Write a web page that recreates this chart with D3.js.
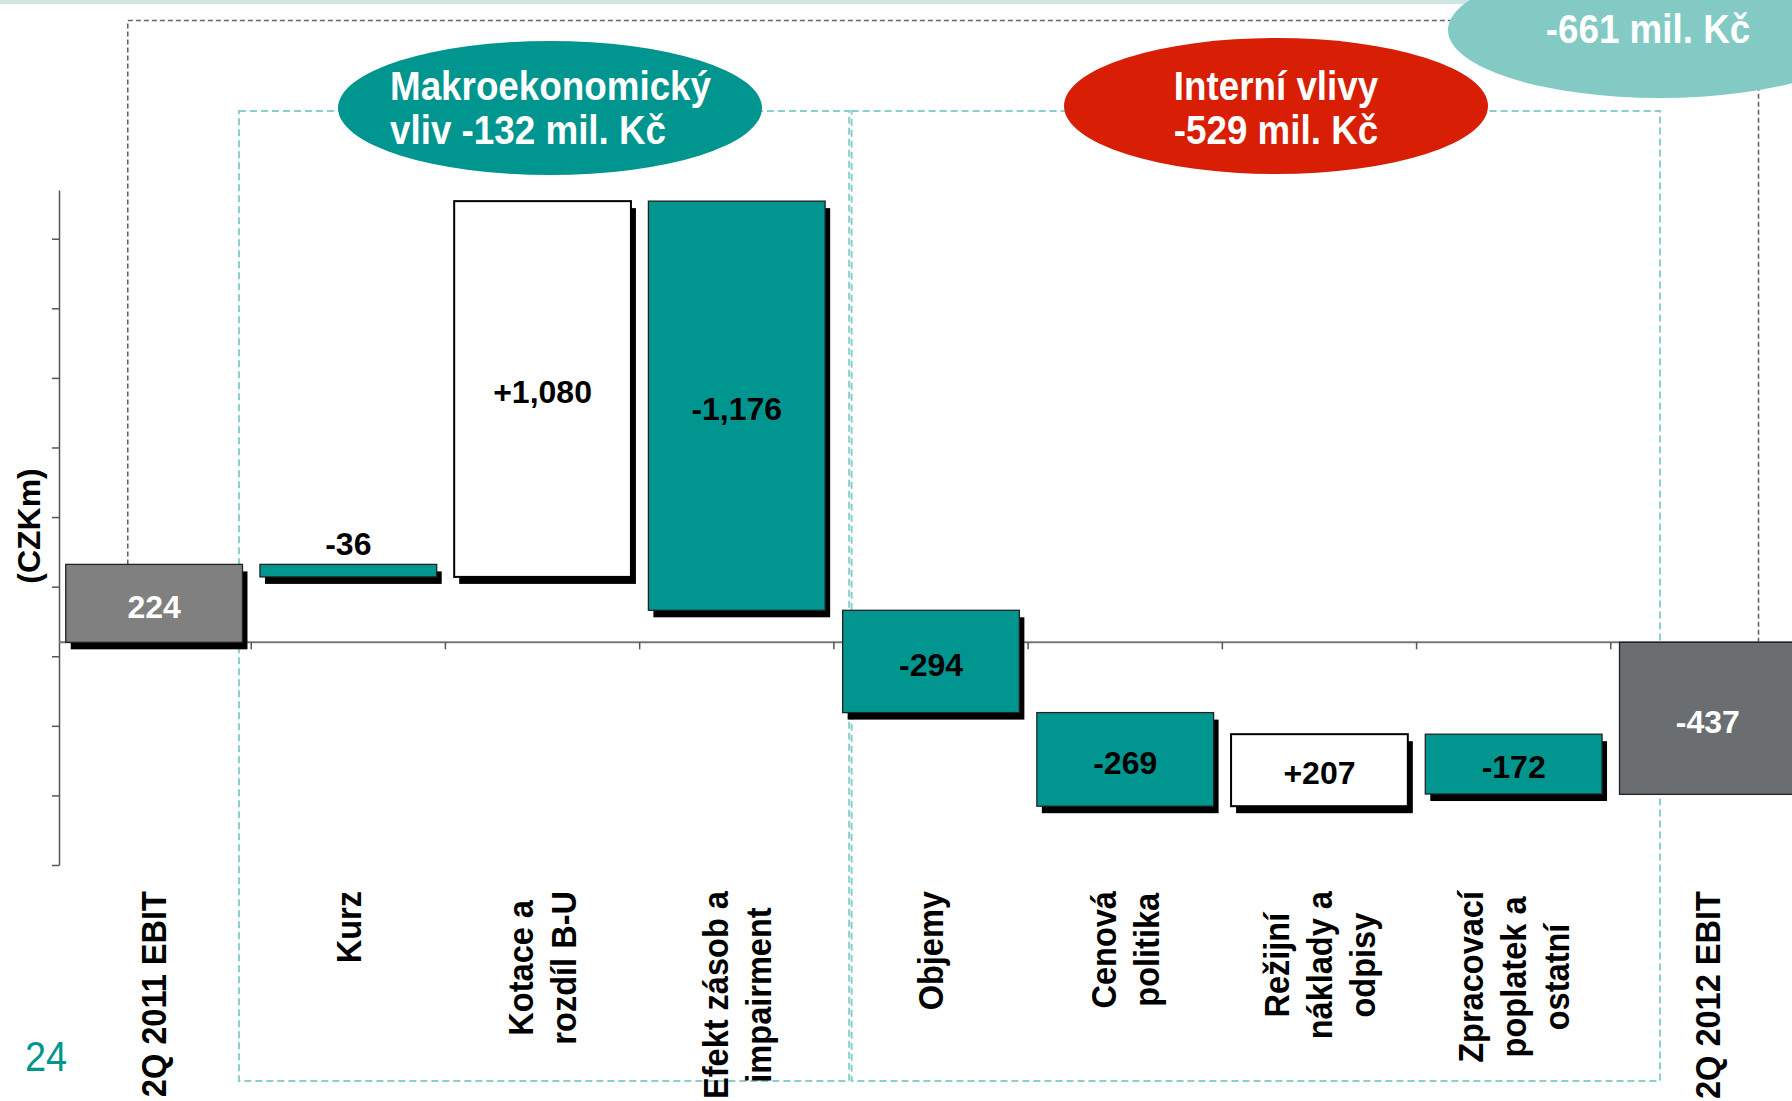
<!DOCTYPE html>
<html>
<head>
<meta charset="utf-8">
<script src="https://cdn.jsdelivr.net/npm/d3@7"></script>
<style>
  html, body { margin: 0; padding: 0; background: #fff; overflow: hidden; }
  svg { display: block; }
  text { font-family: "Liberation Sans", Arial, Helvetica, sans-serif; }
</style>
</head>
<body>
<svg id="chart" width="1792" height="1101"></svg>
<script>
// EBIT bridge 2Q 2011 -> 2Q 2012 (CZK m)
const categories = ["2Q 2011 EBIT", "Kurz", "Kotace a rozdíl B-U", "Efekt zásob a impairment",
  "Objemy", "Cenová politika", "Režijní náklady a odpisy", "Zpracovací poplatek a ostatní", "2Q 2012 EBIT"];
const categoryLines = [
  ["2Q 2011 EBIT"], ["Kurz"], ["Kotace a", "rozdíl B-U"], ["Efekt zásob a", "impairment"],
  ["Objemy"], ["Cenová", "politika"], ["Režijní", "náklady a", "odpisy"],
  ["Zpracovací", "poplatek a", "ostatní"], ["2Q 2012 EBIT"]
];
const values = [224, -36, 1080, -1176, -294, -269, 207, -172, -437];
const barKinds = ["start", "delta", "delta", "delta", "delta", "delta", "delta", "delta", "end"];
const yTicks = [-640, -440, -240, -40, 160, 360, 560, 760, 960, 1160];
const macroLines = ["Makroekonomický", "vliv -132 mil. Kč"];
const internalLines = ["Interní vlivy", "-529 mil. Kč"];
const totalLine = "-661 mil. Kč";
const yAxisTitle = "(CZKm)";
const pageNumber = "24";

const W = 1792, H = 1101;
const svg = d3.select("#chart");

const TEAL = "#00968F", RED = "#D81E05", LIGHT_TEAL = "#83CAC4", BOX_TEAL = "#8ACFCB";

const x = d3.scaleBand().domain(categories).range([57, 1805]).paddingInner(0.09).paddingOuter(0.045);
const y = d3.scaleLinear().domain([-640, 1300]).range([865, 190]);
const bw = x.bandwidth();

// waterfall segments
let run = 0;
const bars = values.map((v, i) => {
  let a, b;
  if (barKinds[i] === "start") { a = 0; b = v; run = v; }
  else if (barKinds[i] === "end") { a = 0; b = v; }
  else { a = run; b = run + v; run = b; }
  return { cat: categories[i], v, kind: barKinds[i], lo: Math.min(a, b), hi: Math.max(a, b) };
});

// plain hyphen for negatives
const hyphen = s => s.replace(/\u2212/g, "-");
const fmtTotal = v => hyphen(d3.format(",")(v));
const fmtDelta = v => hyphen(d3.format("+,")(v));

// thin band along the top edge
svg.append("rect").attr("x", 0).attr("y", 0).attr("width", W).attr("height", 4).attr("fill", "#cfe6e2");

// group frames (dashed)
const boxTop = 111, boxBottom = 1081;
const boxes = [
  [x(categories[1]) - 21, x(categories[3]) + bw + 24],
  [x(categories[4]) + 9, x(categories[7]) + bw + 58]
];
boxes.forEach(([l, r]) => {
  svg.append("rect").attr("x", l).attr("y", boxTop).attr("width", r - l).attr("height", boxBottom - boxTop)
    .attr("fill", "none").attr("stroke", BOX_TEAL).attr("stroke-width", 2).attr("stroke-dasharray", "7,4");
});

// overall bracket (grey dashed)
const brL = x(categories[0]) + 62, brR = x(categories[8]) + 139, brTop = 20.5;
svg.append("path")
  .attr("d", `M${brL},${y(values[0])}V${brTop}H${brR}V${y(0)}`)
  .attr("fill", "none").attr("stroke", "#666").attr("stroke-width", 1.6).attr("stroke-dasharray", "5,3");

// axes
const yAxis = d3.axisLeft(y).tickValues(yTicks).tickSize(7).tickSizeOuter(0).tickFormat("");
const gy = svg.append("g").attr("transform", "translate(59,0)").call(yAxis);
gy.selectAll("path, line").attr("stroke", "#555").attr("stroke-width", 1.5);

svg.append("line").attr("x1", 59).attr("x2", W).attr("y1", y(0)).attr("y2", y(0))
  .attr("stroke", "#777").attr("stroke-width", 2);
categories.slice(1).forEach(c => {
  const tx = x(c) - x.step() * x.paddingInner() / 2;
  svg.append("line").attr("x1", tx).attr("x2", tx).attr("y1", y(0)).attr("y2", y(0) + 7)
    .attr("stroke", "#555").attr("stroke-width", 1.5);
});

// bars
const fillOf = d => d.kind === "start" ? "#808080" : d.kind === "end" ? "#6A6E70" : (d.v > 0 ? "#fff" : TEAL);
const gBars = svg.append("g");
bars.forEach(d => {
  const bx = x(d.cat), by = y(d.hi), bh = y(d.lo) - y(d.hi);
  if (d.kind !== "end") {
    gBars.append("rect").attr("x", bx + 5).attr("y", by + 7).attr("width", bw).attr("height", bh).attr("fill", "#000");
  }
  gBars.append("rect").attr("x", bx).attr("y", by).attr("width", bw).attr("height", bh)
    .attr("fill", fillOf(d))
    .attr("stroke", d.v > 0 && d.kind === "delta" ? "#000" : "#222")
    .attr("stroke-width", d.v > 0 && d.kind === "delta" ? 2 : 1.3);
});

// value labels
bars.forEach(d => {
  const txt = d.kind === "delta" ? fmtDelta(d.v) : fmtTotal(d.v);
  const cx = x(d.cat) + bw / 2;
  const top = y(d.hi), bot = y(d.lo);
  const small = bot - top < 30;
  svg.append("text").text(txt)
    .attr("x", cx).attr("y", small ? top - 9 : (top + bot) / 2 + 3)
    .attr("dy", small ? 0 : "0.35em")
    .attr("text-anchor", "middle")
    .attr("font-size", 32).attr("font-weight", "bold")
    .attr("fill", d.kind === "delta" ? "#000" : "#fff");
});

// category labels (vertical, top aligned, lines centred)
const labelTop = 891, lineGap = 43, labelScale = 0.93;
categoryLines.forEach((lines, i) => {
  const cx = x(categories[i]) + bw / 2;
  const g = svg.append("g");
  const texts = lines.map(t => g.append("text").text(t)
    .attr("font-size", 35).attr("font-weight", "bold").attr("fill", "#000")
    .attr("text-anchor", "middle").attr("dy", "0.35em"));
  const maxLen = d3.max(texts, t => t.node().getComputedTextLength()) * labelScale;
  const n = lines.length;
  texts.forEach((t, j) => {
    const lx = cx + (j - (n - 1) / 2) * lineGap;
    t.attr("transform", `translate(${lx},${labelTop + maxLen / 2}) rotate(-90) scale(${labelScale},1)`);
  });
});

// y-axis title
svg.append("text").text(yAxisTitle)
  .attr("transform", "translate(29,526) rotate(-90)")
  .attr("text-anchor", "middle").attr("dy", "0.35em")
  .attr("font-size", 32).attr("font-weight", "bold").attr("fill", "#000");

// callout ellipses
const calloutFont = 40, calloutScale = 0.92;
function callout(cx, cy, rx, ry, fill, lines, anchor, tx, baselines) {
  svg.append("ellipse").attr("cx", cx).attr("cy", cy).attr("rx", rx).attr("ry", ry).attr("fill", fill);
  lines.forEach((t, j) => {
    svg.append("text").text(t)
      .attr("transform", `translate(${tx},${baselines[j]}) scale(${calloutScale},1)`)
      .attr("text-anchor", anchor)
      .attr("font-size", calloutFont).attr("font-weight", "bold").attr("fill", "#fff");
  });
}
callout(550, 108, 212, 67, TEAL, macroLines, "start", 390, [100, 144]);
callout(1276, 106, 212, 68, RED, internalLines, "middle", 1276, [100, 144]);
callout(1660, 30, 212, 68, LIGHT_TEAL, [totalLine], "middle", 1648, [43]);

// page number
svg.append("text").text(pageNumber)
  .attr("transform", "translate(25,1071) scale(0.9,1)")
  .attr("font-size", 42).attr("fill", TEAL);
</script>
</body>
</html>
